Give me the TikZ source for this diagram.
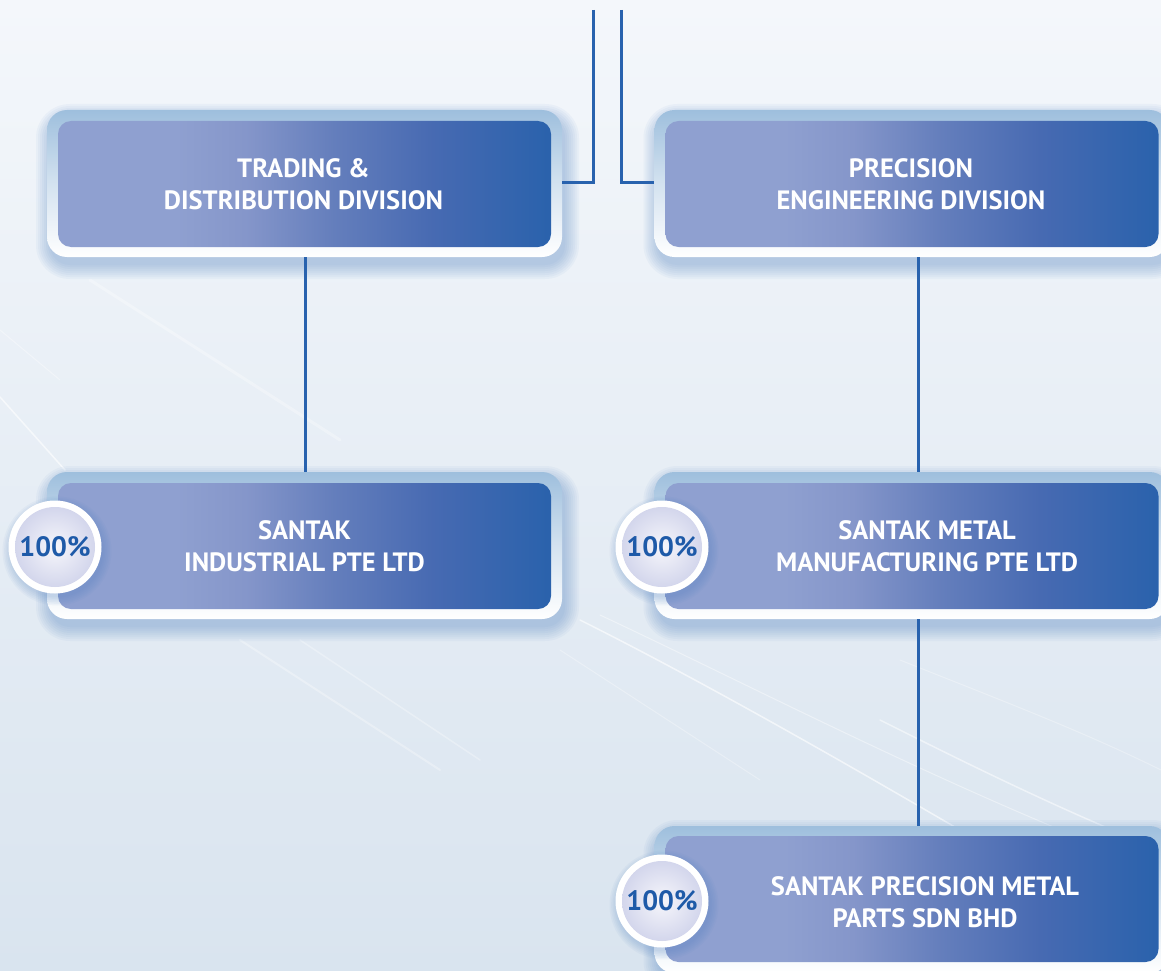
\documentclass[tikz,border=0pt]{standalone}
\usepackage{fontspec}
\setmainfont{PT Sans}
\definecolor{bgtop}{HTML}{F4F7FB}
\definecolor{bgbot}{HTML}{D9E4EF}
\definecolor{bxA}{HTML}{8FA0D0}
\definecolor{bxB}{HTML}{8596CA}
\definecolor{bxC}{HTML}{647EBC}
\definecolor{bxE}{HTML}{476AB2}
\definecolor{bxD}{HTML}{2A62AC}
\definecolor{frtop}{HTML}{9EBFDD}
\definecolor{lnblue}{HTML}{2862AE}
\definecolor{pctblue}{HTML}{1E5AA8}
\definecolor{circin}{HTML}{F6F6FB}
\definecolor{circout}{HTML}{D3D6EC}
\definecolor{shcol}{HTML}{4C7FC0}
\pgfdeclarehorizontalshading{boxshade}{100bp}{color(0bp)=(bxA); color(25bp)=(bxA); color(37bp)=(bxA); color(44bp)=(bxB); color(53bp)=(bxC); color(63bp)=(bxE); color(75bp)=(bxD); color(100bp)=(bxD)}
\newcommand{\myboxshadow}[2]{%
  \foreach \k in {0,...,7}{
    \fill[shcol, opacity=0.05, rounded corners={20pt+\k*2pt}]
      ({#1+3-257.5-\k*2}, {#2+8-73.5-\k*2}) rectangle ({#1+3+257.5+\k*2}, {#2+8+73.5+\k*2});
  }}
\newcommand{\mycircshadow}[2]{%
  \foreach \k in {0,...,5}{
    \fill[shcol, opacity=0.05] ({#1+2},{#2+4}) circle ({46.5pt+\k*1.6pt});
  }}
\tikzset{
  frame/.style={rectangle, rounded corners=20pt, minimum width=515pt, minimum height=147pt, inner sep=0pt,
    top color=frtop, bottom color=white, middle color=white!55!frtop},
  boxbody/.style={rectangle, rounded corners=13pt, minimum width=493pt, minimum height=126pt, inner sep=0pt, shading=boxshade},
  boxtext/.style={text=white, font=\bfseries\fontsize{26.5}{32}\selectfont, align=center, inner sep=0pt},
  conn/.style={draw=lnblue, line width=3pt},
  pctring/.style={circle, minimum size=93pt, inner sep=0pt, fill=white},
  pctin/.style={circle, minimum size=80pt, inner sep=0pt, inner color=circin, outer color=circout,
    text=pctblue, font=\bfseries\fontsize{28}{28}\selectfont},
  streak/.style={draw=white, line cap=round}
}
\begin{document}
\begin{tikzpicture}[x=1pt, y=-1pt]
\useasboundingbox (0,0) rectangle (1161,971);
\shade[top color=bgtop, bottom color=bgbot] (0,0) rectangle (1161,971);
% faint streaks
\begin{scope}
\clip (0,0) rectangle (1161,971);
\draw[streak, opacity=0.6, line width=1.5pt] (0,397) -- (65,470);
\draw[streak, opacity=0.35, line width=1pt] (0,330) -- (60,380);
\draw[streak, opacity=0.3, line width=3pt] (90,280) -- (340,440);
\draw[streak, opacity=0.3, line width=2pt] (240,640) -- (440,770);
\draw[streak, opacity=0.3, line width=1.5pt] (300,640) -- (480,760);
\draw[streak, opacity=0.6, line width=1.5pt] (580,620) .. controls (700,680) and (840,760) .. (960,830);
\draw[streak, opacity=0.4, line width=1pt] (600,615) .. controls (760,690) and (950,790) .. (1161,870);
\draw[streak, opacity=0.5, line width=1.5pt] (880,720) .. controls (960,760) and (1060,810) .. (1161,850);
\draw[streak, opacity=0.3, line width=1pt] (900,660) .. controls (1000,700) and (1080,730) .. (1161,770);
\draw[streak, opacity=0.3, line width=1pt] (560,650) -- (760,780);
\end{scope}
% shadows
\myboxshadow{304.5}{183.5}
\myboxshadow{912}{183.5}
\myboxshadow{304.5}{545.5}
\myboxshadow{912}{545.5}
\myboxshadow{912}{899.5}
% frames
\node[frame] (f1) at (304.5,183.5) {};
\node[frame] (f2) at (912,183.5) {};
\node[frame] (f3) at (304.5,545.5) {};
\node[frame] (f4) at (912,545.5) {};
\node[frame] (f5) at (912,899.5) {};
% bodies
\node[boxbody] (b1) at (304.5,184) {};
\node[boxbody] (b2) at (912,184) {};
\node[boxbody] (b3) at (304.5,546) {};
\node[boxbody] (b4) at (912,546) {};
\node[boxbody] (b5) at (912,899) {};
% texts
\node[boxtext] (t1) at (303.5,184) {TRADING \&\\DISTRIBUTION DIVISION};
\node[boxtext] (t2) at (911,184) {PRECISION\\ENGINEERING DIVISION};
\node[boxtext] (t3) at (304.5,546) {SANTAK\\INDUSTRIAL PTE LTD};
\node[boxtext] (t4) at (927,546) {SANTAK METAL\\MANUFACTURING PTE LTD};
\node[boxtext] (t5) at (925,902) {SANTAK PRECISION METAL\\PARTS SDN BHD};
% percentage badges
\mycircshadow{55}{547}
\mycircshadow{662}{547}
\mycircshadow{662}{901}
\node[pctring] (r3) at (55,547) {};
\node[pctin] (p3) at (55,547) {100\%};
\node[pctring] (r4) at (662,547) {};
\node[pctin] (p4) at (662,547) {100\%};
\node[pctring] (r5) at (662,901) {};
\node[pctin] (p5) at (662,901) {100\%};
% connectors
\coordinate (topL) at (593,10);
\coordinate (topR) at (621,10);
\draw[conn] (topL) |- (f1.east |- 0,182);
\draw[conn] (topR) |- (f2.west |- 0,182);
\draw[conn] (f1.south -| 305,0) -- (f3.north -| 305,0);
\draw[conn] (f2.south -| 918,0) -- (f4.north -| 918,0);
\draw[conn] (f4.south -| 918,0) -- (f5.north -| 918,0);
\end{tikzpicture}
\end{document}
